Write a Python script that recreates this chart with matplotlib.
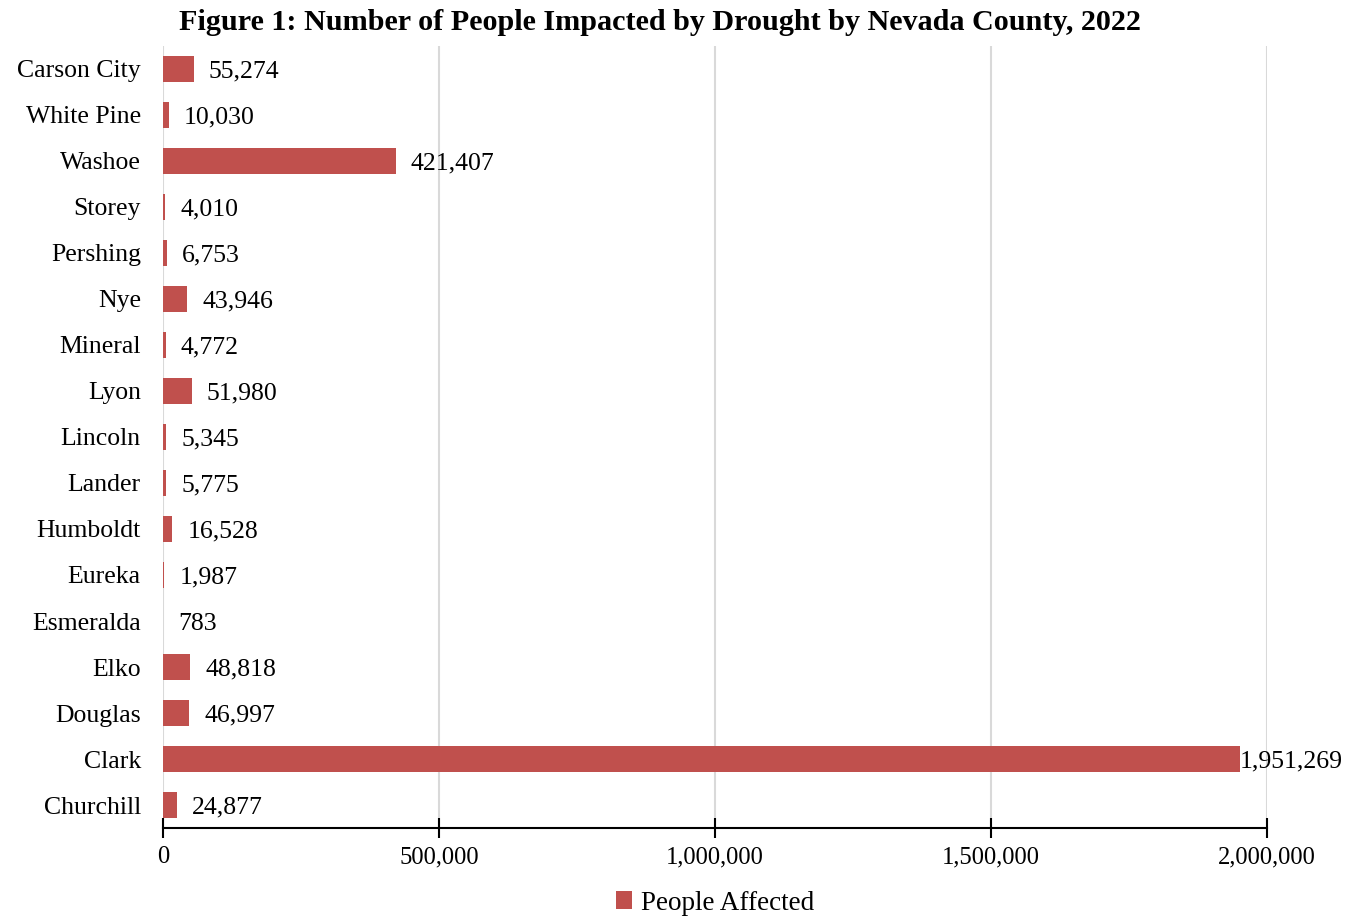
import matplotlib.pyplot as plt
from matplotlib.ticker import FuncFormatter

counties = ["Churchill", "Clark", "Douglas", "Elko", "Esmeralda", "Eureka",
            "Humboldt", "Lander", "Lincoln", "Lyon", "Mineral", "Nye",
            "Pershing", "Storey", "Washoe", "White Pine", "Carson City"]
people = [24877, 1951269, 46997, 48818, 783, 1987,
          16528, 5775, 5345, 51980, 4772, 43946,
          6753, 4010, 421407, 10030, 55274]
xticks = [0, 500000, 1000000, 1500000, 2000000]

bar_color = "#C0504D"
plt.rcParams["font.family"] = ["Liberation Serif", "DejaVu Serif"]

fig = plt.figure(figsize=(13.63, 9.19), dpi=100)
ax = fig.add_axes([0.1196, 0.099, 0.81, 0.851])

ypos = list(range(len(counties)))
bars = ax.barh(ypos, people, height=0.57, color=bar_color, label="People Affected", zorder=3)

# value labels (Clark's label sits right on the bar end, like the original)
for y, v in zip(ypos, people):
    pad = 0 if v > 1900000 else 11
    ax.annotate(f"{v:,}", xy=(v, y), xytext=(pad, 0), textcoords="offset points",
                va="center_baseline", ha="left", fontsize=18.5)

ax.set_xlim(0, 2000000)
ax.set_ylim(-0.5, len(counties) - 0.5)
ax.set_xticks(xticks)
ax.xaxis.set_major_formatter(FuncFormatter(lambda x, p: f"{int(x):,}"))
ax.set_yticks(ypos)
ax.set_yticklabels(counties)

ax.tick_params(axis="x", direction="inout", length=14, width=1.5, labelsize=17.7, pad=6)
ax.tick_params(axis="y", length=0, labelsize=18.5, pad=16)

ax.grid(axis="x", color="#D9D9D9", linewidth=1.5, zorder=0)
for s in ["top", "right", "left"]:
    ax.spines[s].set_visible(False)
ax.spines["bottom"].set_linewidth(1.5)
ax.spines["bottom"].set_zorder(4)

ax.legend(loc="center", bbox_to_anchor=(0.5, -0.096), frameon=False, fontsize=19.5,
          handlelength=0.6, handleheight=0.6, handletextpad=0.3)

fig.suptitle("Figure 1: Number of People Impacted by Drought by Nevada County, 2022",
             fontsize=21.7, fontweight="bold", y=0.99, va="top", x=0.484)

fig.savefig("out.png", dpi=100)
